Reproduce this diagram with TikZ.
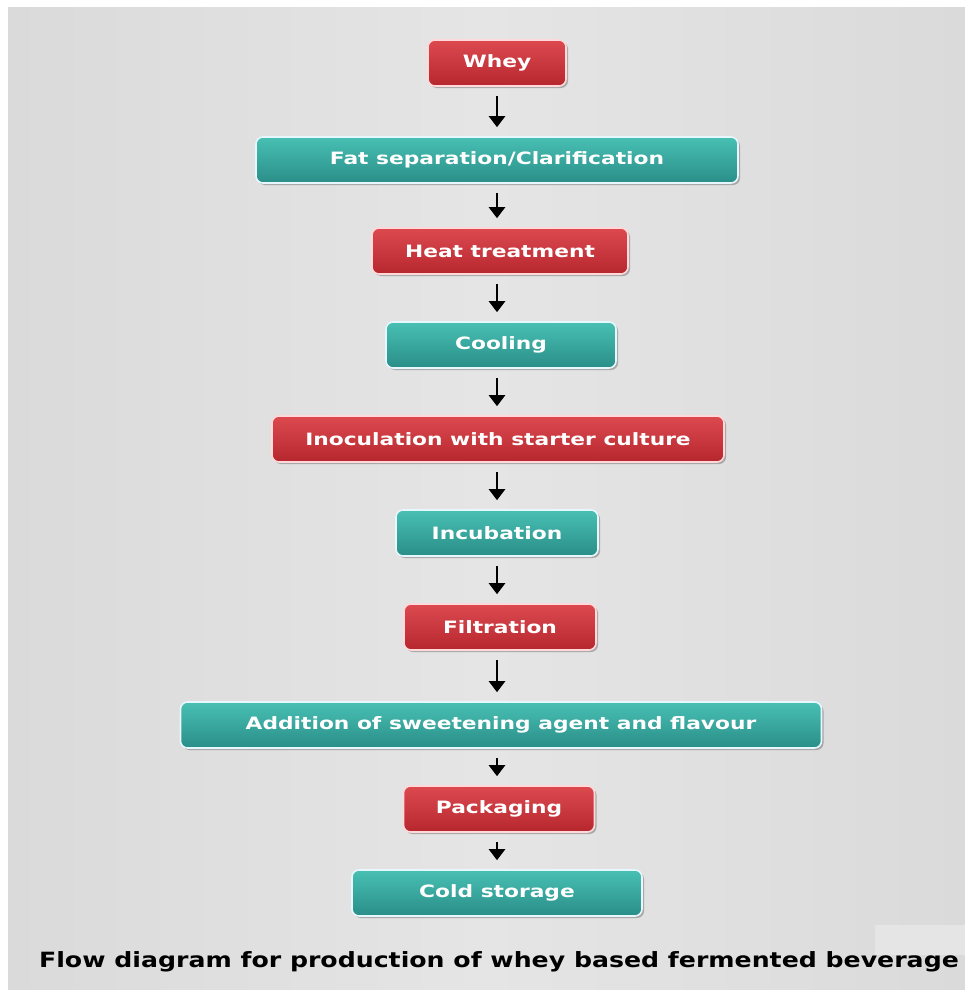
\documentclass[tikz,border=0pt]{standalone}
\usepackage{fontspec}
\setmainfont{DejaVu Sans}
\newfontfamily\boxfont[FakeStretch=1.28]{DejaVu Sans Bold}
\newfontfamily\capfont[FakeStretch=1.2]{DejaVu Sans Bold}
\usetikzlibrary{arrows.meta,shadows}
\definecolor{bggray}{HTML}{DADADA}
\definecolor{bglight}{HTML}{E5E5E5}
\definecolor{redtop}{HTML}{DC4A50}
\definecolor{redbot}{HTML}{B6272D}
\definecolor{tealtop}{HTML}{48C0B3}
\definecolor{tealbot}{HTML}{2A8E88}
\tikzset{
  stepbase/.style={rounded corners=7pt, line width=1.6pt, minimum height=46pt,
    inner sep=0pt, text=white,
    font=\boxfont\fontsize{17}{20}\selectfont,
    drop shadow={shadow xshift=2pt, shadow yshift=-2pt, opacity=0.25, fill=black}},
  redbox/.style={stepbase, draw=red!15!white, top color=redtop, bottom color=redbot},
  tealbox/.style={stepbase, draw=cyan!10!white, top color=tealtop, bottom color=tealbot},
  arr/.style={line width=2.4pt, -{Triangle[width=16pt,length=11pt]}}
}
\begin{document}
\begin{tikzpicture}[x=1pt,y=-1pt]
\useasboundingbox (0,0) rectangle (965,990);
\fill[white] (0,0) rectangle (965,990);
\shade[left color=bggray, right color=bggray, middle color=bglight] (8,8) rectangle (965,990);
\fill[bggray!70!white] (875,925) rectangle (965,955);

\node[redbox, minimum width=138pt] (whey) at (497,63) {Whey};
\node[tealbox, minimum width=482pt] (fat) at (497,160) {Fat separation/Clarification};
\node[redbox, minimum width=256pt] (heat) at (500,251) {Heat treatment};
\node[tealbox, minimum width=230pt] (cool) at (501,345) {Cooling};
\node[redbox, minimum width=452pt] (inoc) at (498,439) {Inoculation with starter culture};
\node[tealbox, minimum width=202pt] (incu) at (497,533) {Incubation};
\node[redbox, minimum width=192pt] (filt) at (500,627) {Filtration};
\node[tealbox, minimum width=641pt] (add) at (501,725) {Addition of sweetening agent and flavour};
\node[redbox, minimum width=191pt] (pack) at (499,809) {Packaging};
\node[tealbox, minimum width=290pt] (cold) at (497,893) {Cold storage};

\node[font=\capfont\fontsize{21}{25}\selectfont, text=black] (cap) at (499,962)
  {Flow diagram for production of whey based fermented beverage};

\foreach \a/\b in {whey/fat, fat/heat, heat/cool, cool/inoc, inoc/incu, incu/filt, filt/add, add/pack, pack/cold}{
  \draw[arr] ([yshift=-9pt]whey.south |- \a.south) -- ([yshift=9pt]whey.south |- \b.north);
}
\end{tikzpicture}
\end{document}
